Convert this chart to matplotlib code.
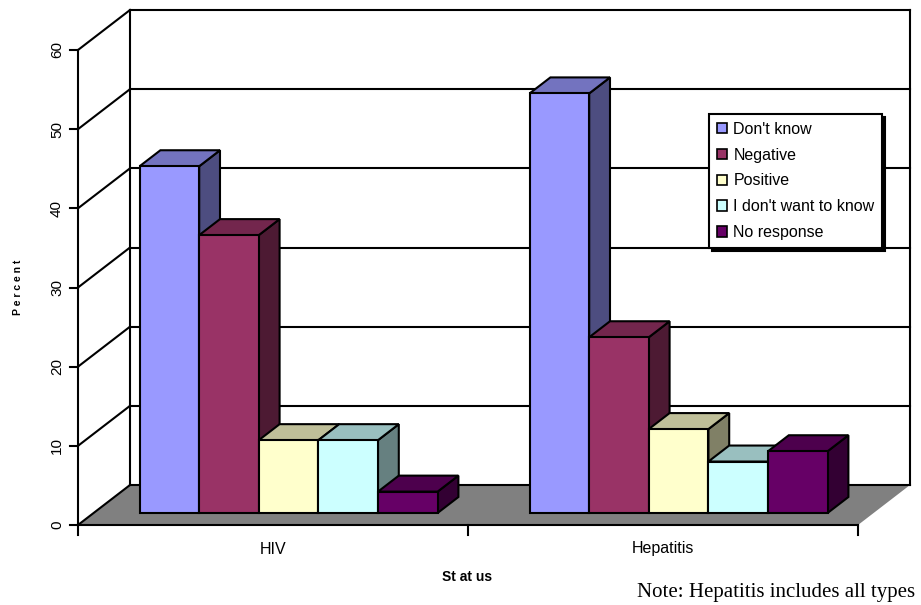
import matplotlib
matplotlib.use("Agg")
import matplotlib.pyplot as plt
from matplotlib.patches import Polygon, Patch
import numpy as np

# ---- data -------------------------------------------------------------
categories = ["HIV", "Hepatitis"]
series = ["Don't know", "Negative", "Positive", "I don't want to know", "No response"]
values = {
    "Don't know":           [43.8, 53.0],
    "Negative":             [35.1, 22.2],
    "Positive":             [9.2, 10.6],
    "I don't want to know": [9.2, 6.5],
    "No response":          [2.7, 7.8],
}
y_ticks = [0, 10, 20, 30, 40, 50, 60]
colors = ["#9999FF", "#993366", "#FFFFCC", "#CCFFFF", "#660066"]

# ---- geometry of the pseudo-3D box -------------------------------------
W, H, DPI = 921, 605, 100
px_per_cat = 390.0          # horizontal pixels per category
px_per_val = 475.0 / 60.0   # vertical pixels per percent
x0_px, y0_px = 78, 525      # front-left corner of the floor
DX = 52 / px_per_cat        # full depth, horizontal (category units)
DY = 40 / px_per_val        # full depth, vertical (value units)
d_front, d_back = 0.3, 0.7  # depth slab occupied by the columns
ymax = 60

fig = plt.figure(figsize=(W / DPI, H / DPI), dpi=DPI)
ax = fig.add_axes([0, 0, 1, 1])
ax.set_xlim(-x0_px / px_per_cat, (W - x0_px) / px_per_cat)
ax.set_ylim((y0_px - H) / px_per_val, y0_px / px_per_val)
ax.axis("off")

LW = 1.5
ncat = len(categories)

# floor
floor = Polygon([(0, 0), (DX, DY), (ncat + DX, DY), (ncat, 0)],
                closed=True, facecolor="#808080", edgecolor="none", zorder=1)
ax.add_patch(floor)

# back wall and side wall gridlines
for v in y_ticks:
    ax.plot([DX, ncat + DX], [v + DY, v + DY], color="black", lw=LW, zorder=2)
    ax.plot([0, DX], [v, v + DY], color="black", lw=LW, zorder=2)
ax.plot([DX, DX], [DY, ymax + DY], color="black", lw=LW, zorder=2)
ax.plot([ncat + DX, ncat + DX], [DY, ymax + DY], color="black", lw=LW, zorder=2)

# front value axis with ticks and rotated labels
ax.plot([0, 0], [0, ymax], color="black", lw=LW, zorder=2)
tick_len = 8 / px_per_cat
for v in y_ticks:
    ax.plot([-tick_len, 0], [v, v], color="black", lw=LW, zorder=2)
    ax.text(-21 / px_per_cat, v, str(v), rotation=90, ha="center", va="center",
            fontsize=11, family="Liberation Sans")

# category axis
ax.plot([0, ncat], [0, 0], color="black", lw=LW, zorder=6)
for i in range(ncat + 1):
    ax.plot([i, i], [0, -10 / px_per_val], color="black", lw=LW, zorder=6)
for i, c in enumerate(categories):
    ax.text(i + 0.5, -24 / px_per_val, c, ha="center", va="center",
            fontsize=11.5, family="Liberation Sans")


def shade(hexcol, f):
    r, g, b = matplotlib.colors.to_rgb(hexcol)
    return (r * f, g * f, b * f)


# columns
nser = len(series)
bar_w = 59.6 / px_per_cat
group_w = bar_w * nser
base = d_front * DY
xoff = d_front * DX
ddx = (d_back - d_front) * DX
ddy = (d_back - d_front) * DY
z = 3
for ci in range(ncat):
    left0 = ci + 0.5 - group_w / 2 + xoff
    for si, name in enumerate(series):
        v = values[name][ci]
        col = colors[si]
        xl = left0 + si * bar_w
        xr = xl + bar_w
        top = base + v
        side = Polygon([(xr, base), (xr, top), (xr + ddx, top + ddy), (xr + ddx, base + ddy)],
                       closed=True, facecolor=shade(col, 0.5), edgecolor="black",
                       lw=LW, joinstyle="miter", zorder=z)
        cap = Polygon([(xl, top), (xr, top), (xr + ddx, top + ddy), (xl + ddx, top + ddy)],
                      closed=True, facecolor=shade(col, 0.75), edgecolor="black",
                      lw=LW, joinstyle="miter", zorder=z)
        ax.add_patch(side)
        ax.add_patch(cap)
        ax.bar(xl, v, width=bar_w, bottom=base, align="edge", color=col,
               edgecolor="black", lw=LW, zorder=z + 0.5)
        z += 1

# legend
handles = [Patch(facecolor=c, edgecolor="black", lw=1.2) for c in colors]
leg = ax.legend(handles, series, loc="upper left",
                bbox_to_anchor=(709 / W, 1 - 114 / H), bbox_transform=fig.transFigure,
                borderaxespad=0, fancybox=False, framealpha=1, edgecolor="black",
                prop={"family": "Liberation Sans", "size": 11.5},
                handlelength=0.62, handleheight=0.62, handletextpad=0.42,
                labelspacing=0.68, borderpad=0.48,
                shadow={"ox": 2, "oy": -2, "color": "black", "alpha": 1})
leg.get_frame().set_linewidth(1.5)
leg.set_zorder(50)

# axis titles and note
fig.text(18 / W, 1 - 287 / H, "P e r c e n t", rotation=90, ha="center", va="center",
         fontsize=7.5, fontweight="bold", family="Liberation Sans")
fig.text(467 / W, 1 - 577 / H, "St at us", ha="center", va="center",
         fontsize=10, fontweight="bold", family="Liberation Sans")
fig.text(776 / W, 1 - 593 / H, "Note: Hepatitis includes all types", ha="center",
         va="center", fontsize=15, family="Liberation Serif")

fig.savefig("out.png", dpi=DPI)
